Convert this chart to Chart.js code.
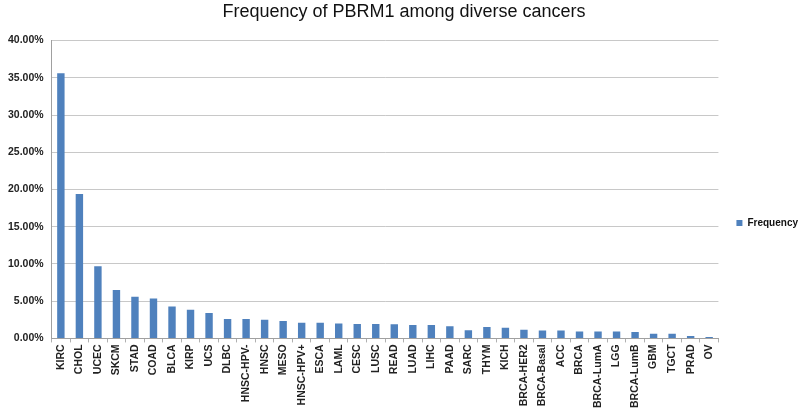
<!DOCTYPE html>
<html>
<head>
<meta charset="utf-8">
<script src="https://cdn.jsdelivr.net/npm/chart.js@4/dist/chart.umd.min.js"></script>
<style>
  html, body { margin: 0; padding: 0; background: #fff; }
  #wrap { width: 800px; height: 410px; }
</style>
</head>
<body>
<div id="wrap"><canvas id="freqChart" width="800" height="410"></canvas></div>
<script>
// cancer types, ordered as in the figure
const cancers = ['KIRC', 'CHOL', 'UCEC', 'SKCM', 'STAD', 'COAD', 'BLCA', 'KIRP', 'UCS', 'DLBC',
  'HNSC-HPV-', 'HNSC', 'MESO', 'HNSC-HPV+', 'ESCA', 'LAML', 'CESC', 'LUSC', 'READ', 'LUAD',
  'LIHC', 'PAAD', 'SARC', 'THYM', 'KICH', 'BRCA-HER2', 'BRCA-Basal', 'ACC', 'BRCA', 'BRCA-LumA',
  'LGG', 'BRCA-LumB', 'GBM', 'TGCT', 'PRAD', 'OV'];

// frequency in percent
const frequency = [35.6, 19.4, 9.7, 6.5, 5.6, 5.35, 4.3, 3.85, 3.4, 2.6,
  2.6, 2.5, 2.35, 2.1, 2.1, 2.0, 1.95, 1.95, 1.9, 1.8,
  1.8, 1.62, 1.1, 1.55, 1.42, 1.17, 1.05, 1.05, 0.92, 0.92,
  0.92, 0.86, 0.64, 0.64, 0.33, 0.2];

const yTicks = [0, 5, 10, 15, 20, 25, 30, 35, 40];

const ctx = document.getElementById('freqChart').getContext('2d');
new Chart(ctx, {
    type: 'bar',
    data: {
        labels: cancers,
        datasets: [{
            label: 'Frequency',
            data: frequency,
            backgroundColor: '#4f81bd',
            borderWidth: 0,
            categoryPercentage: 1.0,
            barPercentage: 0.4
        }]
    },
    options: {
        responsive: false,
        animation: false,
        // negative right padding lets the legend sit further from the plot
        layout: { padding: { left: 0, right: -8, top: 0, bottom: 0 } },
        plugins: {
            title: {
                display: true,
                text: 'Frequency of PBRM1 among diverse cancers',
                color: '#111',
                font: { family: 'Liberation Sans, Arial', size: 18, weight: 'normal' },
                padding: { top: 1, bottom: 18 }
            },
            legend: {
                position: 'right',
                title: { display: true, text: ' ', padding: 0, font: { size: 30 } },
                labels: {
                    boxWidth: 6,
                    boxHeight: 6,
                    padding: 18,
                    color: '#111',
                    font: { family: 'Liberation Sans, Arial', size: 10, weight: 'bold' }
                }
            },
            tooltip: { enabled: false }
        },
        scales: {
            x: {
                grid: {
                    offset: true,
                    drawOnChartArea: false,
                    drawTicks: true,
                    tickLength: 4,
                    color: '#b0b0b0'
                },
                border: { color: '#a0a0a0' },
                ticks: {
                    autoSkip: false,
                    minRotation: 90,
                    maxRotation: 90,
                    padding: 2,
                    color: '#222',
                    font: { family: 'Liberation Sans, Arial', size: 10.5, weight: 'bold' }
                }
            },
            y: {
                min: 0,
                max: 40,
                afterBuildTicks: axis => { axis.ticks = yTicks.map(v => ({ value: v })); },
                grid: { color: '#c8c8c8', drawTicks: false },
                border: { color: '#a0a0a0' },
                ticks: {
                    padding: 8,
                    color: '#222',
                    font: { family: 'Liberation Sans, Arial', size: 10.5, weight: 'bold' },
                    callback: v => v.toFixed(2) + '%'
                }
            }
        }
    }
});
</script>
</body>
</html>
